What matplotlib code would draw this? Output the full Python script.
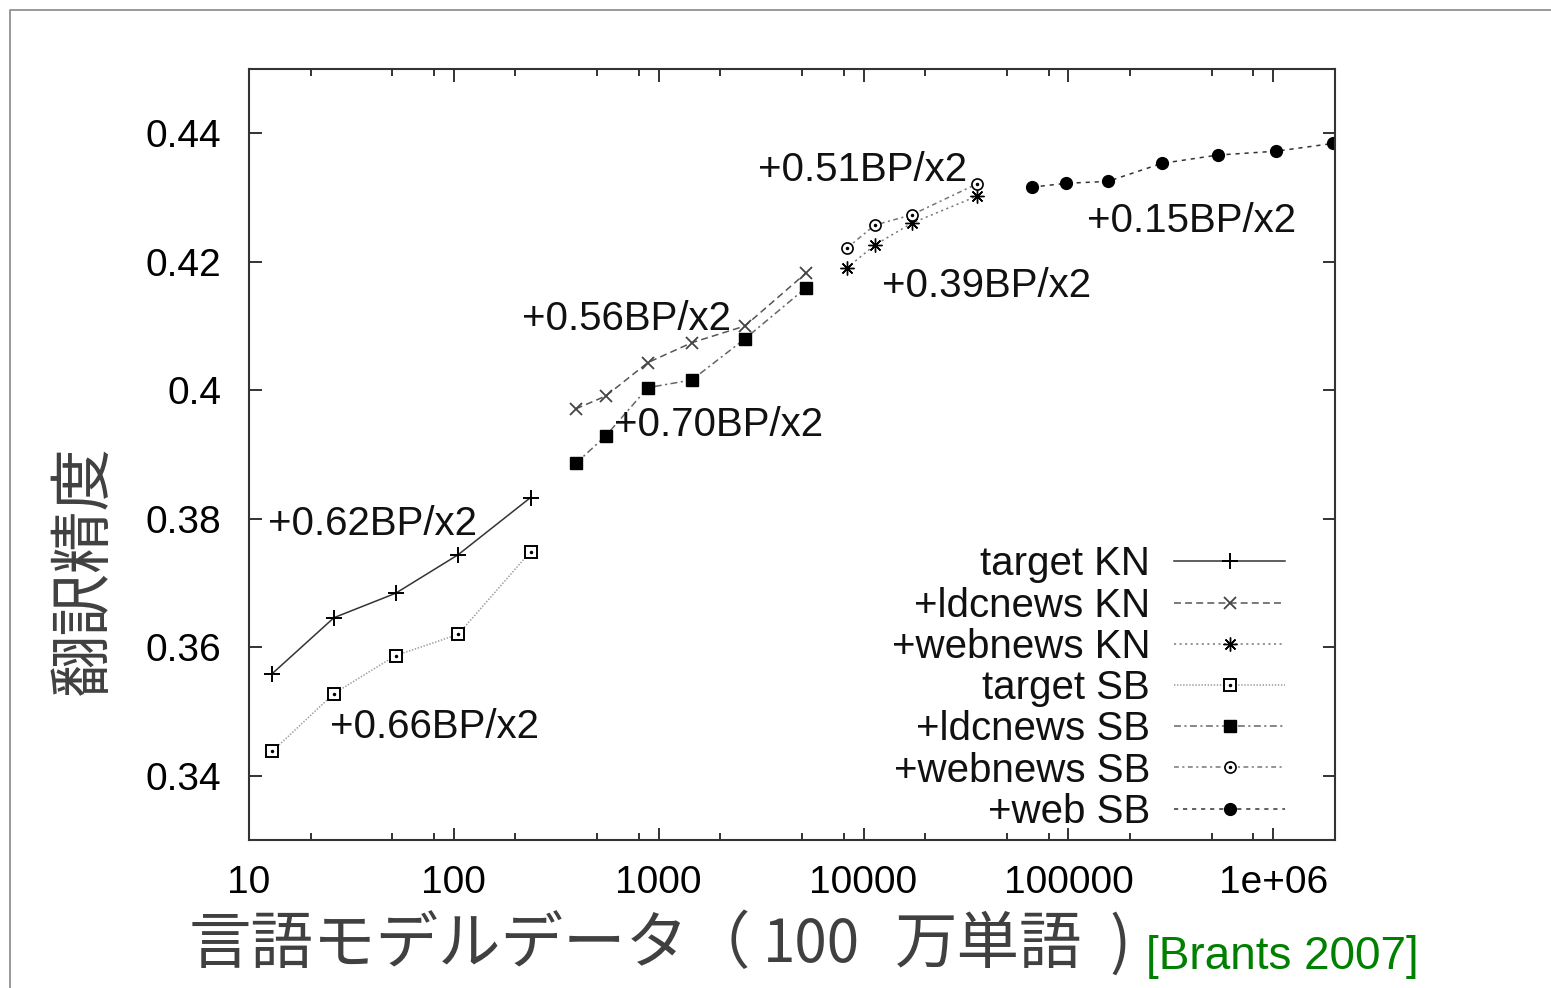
import numpy as np
import matplotlib
matplotlib.use('Agg')
import matplotlib.pyplot as plt
from matplotlib.ticker import LogLocator, FixedLocator, NullFormatter
from matplotlib.legend_handler import HandlerTuple
from matplotlib.lines import Line2D

plt.rcParams['font.family'] = ['Liberation Sans', 'DejaVu Sans']
plt.rcParams['lines.scale_dashes'] = False

# data: LM training size (million words) vs BLEU
tkn_x = [13, 26, 52, 105, 237]
tkn_y = [0.3559, 0.3646, 0.3684, 0.3744, 0.3833]
tsb_x = [13, 26, 52, 105, 237]
tsb_y = [0.3438, 0.3528, 0.3587, 0.3620, 0.3749]

ldc_x = [394, 552, 885, 1452, 2637, 5220]
ldckn_y = [0.3971, 0.3991, 0.4043, 0.4074, 0.4100, 0.4182]
ldcsb_y = [0.3886, 0.3929, 0.4004, 0.4016, 0.4080, 0.4159]

wn_x = [8280, 11350, 17200, 35700]
wnkn_y = [0.4190, 0.4226, 0.4260, 0.4302]
wnsb_y = [0.4221, 0.4257, 0.4273, 0.4321]

web_x = [66200, 97000, 155700, 285600, 535800, 1.03e6, 1.95e6]
web_y = [0.4316, 0.4322, 0.4325, 0.4353, 0.4366, 0.4372, 0.4384]

labels = ['target KN', '+ldcnews KN', '+webnews KN', 'target SB',
          '+ldcnews SB', '+webnews SB', '+web SB']

notes = ['+0.62BP/x2', '+0.66BP/x2', '+0.56BP/x2', '+0.70BP/x2',
         '+0.51BP/x2', '+0.39BP/x2', '+0.15BP/x2']
note_x = [12.4, 24.8, 215, 604, 3049, 12290, 122960]
note_y = [0.3775, 0.3458, 0.4094, 0.3928, 0.4325, 0.4145, 0.4246]

fig = plt.figure(figsize=(15.51, 9.88), dpi=100)
ax = fig.add_axes([0.1605, 0.1498, 0.7002, 0.7804])

lw = 1.1
h1, = ax.plot(tkn_x, tkn_y, color='#333333', lw=lw, ls='-', marker='+', ms=11,
              mec='black', mew=1.4)
h2, = ax.plot(ldc_x, ldckn_y, color='#555555', lw=lw, dashes=(5, 3), marker='x',
              ms=8, mec='#444444', mew=1.3)
h3, = ax.plot(wn_x, wnkn_y, color='#777777', lw=lw, dashes=(1.5, 2.5),
              marker=(8, 2, 0), ms=10, mec='black', mew=1.0)
h4, = ax.plot(tsb_x, tsb_y, color='#999999', lw=lw, dashes=(1, 1.2), marker='s',
              ms=9, mfc='white', mec='black', mew=1.4)
h4d, = ax.plot(tsb_x, tsb_y, ls='none', marker='o', ms=1.5, mfc='black', mec='black')
h5, = ax.plot(ldc_x, ldcsb_y, color='#666666', lw=lw, dashes=(5, 2.5, 1.5, 2.5),
              marker='s', ms=9, mfc='black', mec='black')
h6, = ax.plot(wn_x, wnsb_y, color='#777777', lw=lw, dashes=(3.5, 2.5, 1.5, 2.5),
              marker='o', ms=8, mfc='white', mec='black', mew=1.2)
h6d, = ax.plot(wn_x, wnsb_y, ls='none', marker='o', ms=1.5, mfc='black', mec='black')
h7, = ax.plot(web_x, web_y, color='#333333', lw=lw, dashes=(3, 3.5), marker='o',
              ms=8.5, mfc='black', mec='black')

for t, x, y in zip(notes, note_x, note_y):
    ax.text(x, y, t, fontsize=29, ha='left', va='baseline', color='#111111')

ax.set_xscale('log')
ax.set_xlim(10, 2e6)
ax.set_ylim(0.33, 0.45)
ax.xaxis.set_minor_locator(LogLocator(base=10, subs=[2, 5, 8], numticks=20))
ax.xaxis.set_minor_formatter(NullFormatter())
ax.set_xticks([10, 100, 1000, 10000, 100000, 1e6])
ax.set_xticklabels(['10', '100', '1000', '10000', '100000', '1e+06'])
ax.yaxis.set_major_locator(FixedLocator([0.34, 0.36, 0.38, 0.40, 0.42, 0.44]))
ax.set_yticklabels(['0.34', '0.36', '0.38', '0.4', '0.42', '0.44'])

ax.tick_params(which='both', direction='in', top=True, right=True, color='#333333',
               width=1.4)
ax.tick_params(which='major', length=9, labelsize=28, pad=18)
ax.tick_params(axis='y', which='major', pad=20)
ax.tick_params(which='minor', length=5)
for s in ax.spines.values():
    s.set_linewidth(1.5)
    s.set_color('#333333')

leg = ax.legend([h1, h2, h3, (h4, h4d), h5, (h6, h6d), h7], labels,
                handler_map={tuple: HandlerTuple(ndivide=1)},
                loc='lower right', bbox_to_anchor=(0.954, 0.012),
                markerfirst=False, frameon=False, fontsize=29, numpoints=1,
                handlelength=2.75, handletextpad=0.6, labelspacing=0.08,
                borderpad=0, borderaxespad=0)
for t in leg.get_texts():
    t.set_color('#111111')

cjk = ['Noto Sans CJK JP', 'DejaVu Sans']
fig.text(0.054, 0.423, '翻訳精度', rotation=90, fontsize=45, family=cjk,
         color='#404040', ha='center', va='center')
# x label, laid out in pieces to follow the slide's spacing
xl_y = 0.0435
fig.text(189 / 1551, xl_y, '言語モデルデータ（', fontsize=45, family=cjk,
         color='#404040', ha='left', va='center')
fig.text(811 / 1551, xl_y, '100', fontsize=42, family=cjk,
         color='#404040', ha='center', va='center')
fig.text(895 / 1551, xl_y, '万単語', fontsize=45, family=cjk,
         color='#404040', ha='left', va='center')
fig.text(1109 / 1551, xl_y, ')', fontsize=45, family=cjk,
         color='#404040', ha='left', va='center')
fig.text(0.739, 0.0192, '[Brants 2007]', fontsize=33, color='#008000',
         ha='left', va='baseline')

# thin grey frame around the slide
fx = 10 / 1551
fy = 1 - 10 / 988
fig.add_artist(Line2D([fx, fx, 1.0], [0.0, fy, fy], transform=fig.transFigure,
                      color='#888888', lw=1.2))

fig.savefig('out.png', dpi=100)
